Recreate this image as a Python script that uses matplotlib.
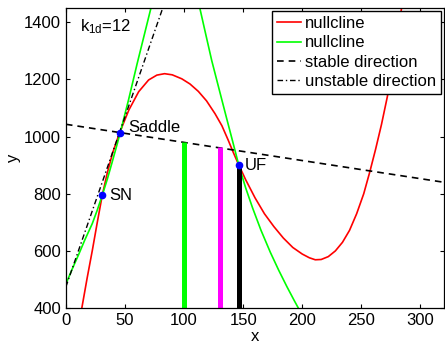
import matplotlib
matplotlib.use('Agg')
import matplotlib.pyplot as plt

plt.rcParams['font.family'] = ['Liberation Sans', 'DejaVu Sans']
plt.rcParams['font.size'] = 12

# red nullcline
red_x = [13.5, 18, 22.4, 26.5, 30.8, 35, 39.5, 43.5, 47.7, 53.3, 61.6, 70, 77, 83.5,
         90, 98.1, 105, 112.1, 119, 126.2, 132, 137.4, 141.5, 145.8, 152, 160, 168,
         176, 184, 192, 200, 206, 211, 216, 222, 228, 234, 240, 246, 252, 257.1, 262,
         267, 271.9, 276, 280, 284]
red_y = [400, 505, 602, 698, 795, 872, 942, 990, 1036, 1093, 1157, 1198, 1215, 1220,
         1216, 1202, 1184, 1158, 1125, 1080, 1038, 987, 946, 905, 850, 786, 730,
         685, 645, 612, 589, 576, 569, 570, 580, 600, 630, 672, 730, 800, 876, 955,
         1042, 1138, 1232, 1332, 1450]

# green nullcline, left and right branches
green_left_x = [0, 5, 11.2, 16, 22.4, 26.5, 30.8, 35, 39, 43.5, 46, 53, 60.3, 66, 72.3]
green_left_y = [484, 533, 591, 638, 696, 742, 795, 850, 908, 975, 1014, 1128, 1255, 1350, 1455]
green_right_x = [113.3, 118, 123.4, 130, 136, 141, 146.3, 152, 158, 165, 173, 180, 187, 193, 198]
green_right_y = [1450, 1364, 1266, 1160, 1064, 985, 900, 822, 750, 673, 595, 533, 475, 428, 390]

# manifolds of the saddle
stable_x = [0, 320]
stable_y = [1043, 840]
unstable_x = [0, 86.2]
unstable_y = [474, 1500]

# vertical bars
bar_x = [100, 130, 146.5]
bar_top = [980, 962, 900]
bar_colors = ['#00ff00', '#ff00ff', 'black']

# special points
pt_names = ['SN', 'Saddle', 'UF']
pt_x = [30.8, 46, 146.3]
pt_y = [795, 1014, 900]

fig = plt.figure(figsize=(4.45, 3.45), dpi=100)
ax = fig.add_axes([0.148, 0.107, 0.85, 0.870])

l1, = ax.plot(red_x, red_y, color='red', lw=1.2, label='nullcline')
l2, = ax.plot(green_left_x, green_left_y, color='#00ff00', lw=1.2, label='nullcline')
ax.plot(green_right_x, green_right_y, color='#00ff00', lw=1.2)
l3, = ax.plot(stable_x, stable_y, color='black', lw=1.2, ls=(0, (4, 3)), label='stable direction')
l4, = ax.plot(unstable_x, unstable_y, color='black', lw=1.0, ls=(0, (4, 2, 1, 2)), label='unstable direction')

for bx, bt, bc in zip(bar_x, bar_top, bar_colors):
    ax.plot([bx, bx], [400, bt], color=bc, lw=3.6, solid_capstyle='butt')

ax.plot(pt_x, pt_y, 'o', color='blue', ms=4.5, zorder=5)
ax.text(pt_x[0] + 6, pt_y[0], pt_names[0], va='center', ha='left')
ax.text(pt_x[1] + 7, pt_y[1] + 19, pt_names[1], va='center', ha='left')
ax.text(pt_x[2] + 5, pt_y[2], pt_names[2], va='center', ha='left')

ax.text(12, 1385, r'$\mathregular{k_{1d}}$=12', va='center', ha='left')

ax.set_xlim(0, 320)
ax.set_ylim(400, 1450)
ax.set_xticks([0, 50, 100, 150, 200, 250, 300])
ax.set_yticks([400, 600, 800, 1000, 1200, 1400])
ax.tick_params(direction='in', top=True, right=True, length=3, width=0.8)
ax.set_xlabel('x', labelpad=1)
ax.set_ylabel('y', labelpad=2)
for s in ax.spines.values():
    s.set_linewidth(0.9)

leg = ax.legend(handles=[l1, l2, l3, l4], loc='upper right', fancybox=False,
                framealpha=1, edgecolor='black', handlelength=1.45,
                handletextpad=0.2, borderpad=0.3, labelspacing=0.25,
                borderaxespad=0.2)
leg.get_frame().set_linewidth(1.0)

fig.savefig('out.png', dpi=100)
